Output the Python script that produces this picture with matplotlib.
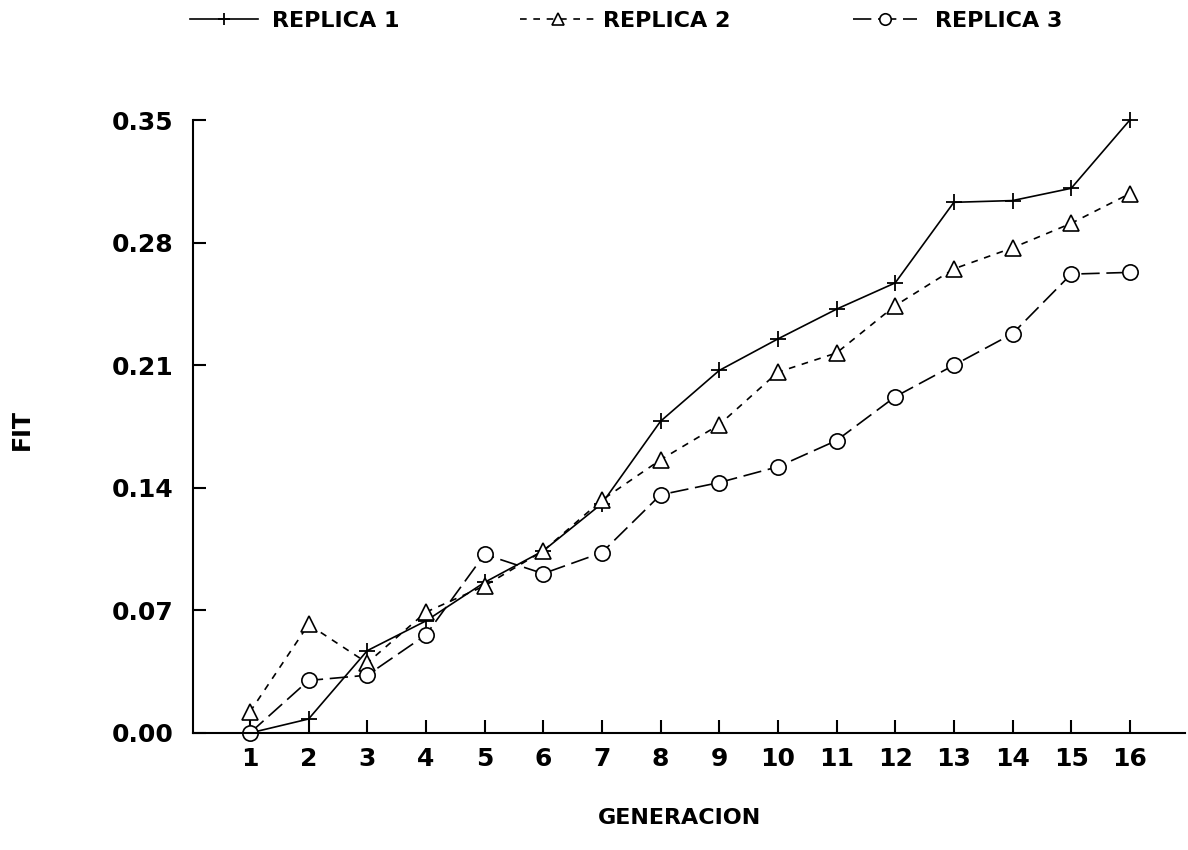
import matplotlib
matplotlib.use("Agg")
import matplotlib.pyplot as plt

plt.rcParams['font.family'] = ['DejaVu Sans']
plt.rcParams['font.weight'] = 'bold'

generacion = list(range(1, 17))
replica1 = [0.000, 0.008, 0.047, 0.064, 0.086, 0.104, 0.131, 0.178, 0.207, 0.225,
            0.242, 0.257, 0.303, 0.304, 0.311, 0.350]
replica2 = [0.012, 0.062, 0.040, 0.069, 0.084, 0.104, 0.133, 0.156, 0.176, 0.206,
            0.217, 0.244, 0.265, 0.277, 0.291, 0.308]
replica3 = [0.000, 0.030, 0.033, 0.056, 0.102, 0.091, 0.103, 0.136, 0.143, 0.152,
            0.167, 0.192, 0.210, 0.228, 0.262, 0.263]
labels = ["REPLICA 1", "REPLICA 2", "REPLICA 3"]
yticks = [0.00, 0.07, 0.14, 0.21, 0.28, 0.35]

W, H = 1188, 850
fig = plt.figure(figsize=(W / 100, H / 100), dpi=100)
left, right, top, bottom = 193, 1185, 120, 733
ax = fig.add_axes([left / W, 1 - bottom / H, (right - left) / W, (bottom - top) / H])

lw = 1.2
l1, = ax.plot(generacion, replica1, color='black', lw=lw, ls='-', marker='+',
              markersize=12, markeredgewidth=1.3, label=labels[0], clip_on=False)
l2, = ax.plot(generacion, replica2, color='black', lw=lw, ls=(0, (4, 4)), marker='^',
              markersize=12, markerfacecolor='white', markeredgewidth=1.2,
              label=labels[1], clip_on=False)
l3, = ax.plot(generacion, replica3, color='black', lw=lw, ls=(0, (11, 4)), marker='o',
              markersize=11, markerfacecolor='white', markeredgewidth=1.2,
              label=labels[2], clip_on=False)

ax.set_xlim(0.03, 16.94)
ax.set_ylim(0.0, 0.35)
ax.set_xticks(generacion)
ax.set_xticklabels([str(g) for g in generacion])
ax.set_yticks(yticks)
ax.set_yticklabels([f"{v:.2f}" for v in yticks])
for s in ['top', 'right']:
    ax.spines[s].set_visible(False)
for s in ['left', 'bottom']:
    ax.spines[s].set_linewidth(1.5)
ax.tick_params(axis='both', direction='in', length=9.5, width=1.5, labelsize=18)
ax.tick_params(axis='y', pad=14)
ax.tick_params(axis='x', pad=10)
for t in ax.get_xticklabels() + ax.get_yticklabels():
    t.set_fontweight('bold')

fig.text(680 / W, 1 - 818 / H, "GENERACION", ha='center', va='center',
         fontsize=16, fontweight='bold')
fig.text(22 / W, 1 - 430 / H, "FIT", ha='center', va='center', rotation=90,
         fontsize=17, fontweight='bold')

# three legend entries placed individually, as in the reference
fs = 16
fs_px = fs * 100 / 72
entries = [
    (l1, labels[0], 190, 68, 14),
    (l2, labels[1], 520, 75, 8),
    (l3, labels[2], 853, 64, 18),
]
for handle, lab, x0, hlen, gap in entries:
    fig.legend(handles=[handle], labels=[lab], loc='center left',
               bbox_to_anchor=(x0 / W, 1 - 21 / H), frameon=False,
               prop={'size': fs, 'weight': 'bold'}, handlelength=hlen / fs_px,
               handletextpad=gap / fs_px, markerscale=0.75,
               borderaxespad=0, borderpad=0)

fig.savefig("out.png", dpi=100)
